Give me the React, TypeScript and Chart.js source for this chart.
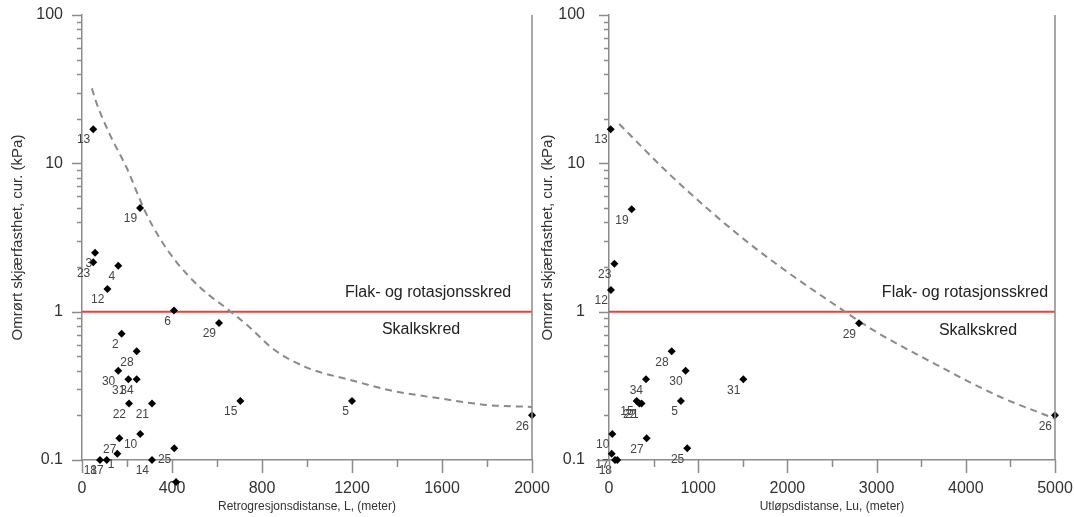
import React, { useEffect, useRef } from "react";
import { Chart, registerables } from "chart.js";
Chart.register(...registerables);

const FONT = "'Liberation Sans', Arial, Helvetica, sans-serif";
const AXIS = "#8c8c8c";
const TEXT = "#333333";

// ---------- Data: left panel (retrogression distance) ----------
const leftL = [50, 258, 58, 50, 161, 113, 409, 609, 176, 243, 161, 206, 243, 209, 311, 704, 1200, 2000, 259, 166, 157, 410, 80, 110, 311, 418];
const leftC = [17, 5.0, 2.5, 2.15, 2.04, 1.42, 1.02, 0.84, 0.71, 0.54, 0.4, 0.35, 0.35, 0.24, 0.24, 0.25, 0.25, 0.2, 0.15, 0.14, 0.11, 0.12, 0.1, 0.1, 0.1, 0.071];
const leftLabels = ["13", "19", "3", "23", "4", "12", "6", "29", "2", "28", "30", "31", "34", "22", "21", "15", "5", "26", "10", "27", "1", "25", "18", "17", "14", ""];
const leftCurveL = [44, 65, 124, 199, 280, 347, 421, 524, 661, 747, 850, 999, 1201, 1369, 1591, 1813, 2000];
const leftCurveC = [32, 25.4, 15.6, 9.3, 4.76, 3.1, 2.15, 1.46, 1.0, 0.78, 0.56, 0.42, 0.344, 0.295, 0.26, 0.234, 0.228];
const leftXTicks = [0, 400, 800, 1200, 1600, 2000];

// ---------- Data: right panel (run-out distance) ----------
const rightLu = [19, 254, 60, 22, 2803, 703, 859, 415, 1506, 310, 340, 365, 806, 37, 422, 877, 30, 67, 93, 5000];
const rightC = [17, 4.9, 2.1, 1.4, 0.836, 0.54, 0.4, 0.35, 0.35, 0.25, 0.24, 0.24, 0.25, 0.15, 0.14, 0.12, 0.11, 0.1, 0.1, 0.2];
const rightLabels = ["13", "19", "23", "12", "29", "28", "30", "34", "31", "15", "22", "21", "5", "10", "27", "25", "17", "18", "", "26"];
const rightCurveLu = [115, 700, 1450, 2000, 2515, 2964, 3637, 4388, 5000];
const rightCurveC = [18.4, 8.2, 3.3, 1.85, 1.13, 0.75, 0.45, 0.266, 0.19];
const rightXTicks = [0, 1000, 2000, 3000, 4000, 5000];

const yTicks = [0.1, 1, 10, 100];
const boundaryValue = 1;
const regionAbove = "Flak- og rotasjonsskred";
const regionBelow = "Skalkskred";
const yTitle = "Omrørt skjærfasthet, cur. (kPa)";

type PanelProps = {
  left: number;
  width: number;
  xs: number[];
  ys: number[];
  labels: string[];
  cx: number[];
  cy: number[];
  xTicks: number[];
  xTitle: string;
  yAxisWidth: number;
  yLabelPad: number;
  yTitlePad: number;
  rightPad: number;
  textAbove: [number, number];
  textBelow: [number, number];
};

const decorPlugin = {
  id: "decor",
  afterDatasetsDraw(chart: any) {
    const { ctx, scales, chartArea } = chart;
    const xs = scales.x;
    const ys = scales.y;
    const cfg = chart.options.plugins.decor;
    ctx.save();
    ctx.fillStyle = "#222";
    ctx.font = `16px ${FONT}`;
    ctx.textAlign = "center";
    ctx.textBaseline = "middle";
    ctx.fillText(regionAbove, xs.getPixelForValue(cfg.textAbove[0]), ys.getPixelForValue(cfg.textAbove[1]));
    ctx.fillText(regionBelow, xs.getPixelForValue(cfg.textBelow[0]), ys.getPixelForValue(cfg.textBelow[1]));
    const meta = chart.getDatasetMeta(0);
    // points that lie outside the plotting area (Chart.js skips them)
    ctx.fillStyle = "#000";
    meta.data.forEach((el: any) => {
      if (el.y > chartArea.bottom + 3 || el.y < chartArea.top - 3) {
        const r = 4;
        ctx.beginPath();
        ctx.moveTo(el.x, el.y - r);
        ctx.lineTo(el.x + r, el.y);
        ctx.lineTo(el.x, el.y + r);
        ctx.lineTo(el.x - r, el.y);
        ctx.closePath();
        ctx.fill();
      }
    });
    ctx.fillStyle = "#444";
    ctx.font = `12px ${FONT}`;
    ctx.textAlign = "right";
    ctx.textBaseline = "middle";
    meta.data.forEach((el: any, i: number) => {
      const t = cfg.labels[i];
      if (t) ctx.fillText(t, el.x - 3, el.y + 11);
    });
    ctx.restore();
  },
  afterDraw(chart: any) {
    const { ctx, chartArea, scales } = chart;
    const xs = scales.x;
    const ys = scales.y;
    const cfg = chart.options.plugins.decor;
    ctx.save();
    ctx.strokeStyle = AXIS;
    ctx.lineWidth = 1.5;
    ctx.beginPath();
    for (let d = -1; d <= 1; d++) {
      for (let m = 1; m <= 9; m++) {
        const v = m * Math.pow(10, d);
        const py = Math.round(ys.getPixelForValue(v)) + 0.5;
        const len = m === 1 ? 10 : 5;
        ctx.moveTo(chartArea.left - len, py);
        ctx.lineTo(chartArea.left, py);
      }
    }
    const pTop = Math.round(ys.getPixelForValue(100)) + 0.5;
    ctx.moveTo(chartArea.left - 10, pTop);
    ctx.lineTo(chartArea.left, pTop);
    const t = cfg.xTicks;
    const step = t[1] - t[0];
    for (let v = t[0]; v <= t[t.length - 1] + 1e-9; v += step / 2) {
      const px = Math.round(xs.getPixelForValue(v)) + 0.5;
      const major = Math.abs(v / step - Math.round(v / step)) < 1e-6;
      const len = major ? 13 : 7;
      ctx.moveTo(px, chartArea.bottom);
      ctx.lineTo(px, chartArea.bottom + len);
    }
    ctx.moveTo(chartArea.right, chartArea.top);
    ctx.lineTo(chartArea.right, chartArea.bottom);
    ctx.stroke();
    ctx.restore();
  },
};

function Panel(p: PanelProps) {
  const ref = useRef<HTMLCanvasElement>(null);
  useEffect(() => {
    const xMin = p.xTicks[0];
    const xMax = p.xTicks[p.xTicks.length - 1];
    const chart = new Chart(ref.current as HTMLCanvasElement, {
      type: "scatter",
      data: {
        datasets: [
          {
            type: "scatter",
            data: p.xs.map((x, i) => ({ x, y: p.ys[i] })),
            pointStyle: "rectRot",
            pointRadius: 4,
            backgroundColor: "#000",
            borderColor: "#000",
            borderWidth: 0,
            clip: false,
            order: 0,
          } as any,
          {
            type: "line",
            data: [
              { x: xMin, y: boundaryValue },
              { x: xMax, y: boundaryValue },
            ],
            borderColor: "#e8403c",
            borderWidth: 2,
            pointRadius: 0,
            order: 2,
          } as any,
          {
            type: "line",
            data: p.cx.map((x, i) => ({ x, y: p.cy[i] })),
            borderColor: "#8a8a8a",
            borderWidth: 2,
            borderDash: [7, 5],
            pointRadius: 0,
            cubicInterpolationMode: "monotone",
            order: 1,
          } as any,
        ],
      },
      options: {
        responsive: false,
        animation: false,
        layout: { padding: { left: 0, right: p.rightPad, top: 15, bottom: 0 } },
        plugins: {
          legend: { display: false },
          tooltip: { enabled: false },
          decor: {
            labels: p.labels,
            xTicks: p.xTicks,
            textAbove: p.textAbove,
            textBelow: p.textBelow,
          },
        } as any,
        scales: {
          x: {
            type: "linear",
            min: xMin,
            max: xMax,
            afterBuildTicks: (s: any) => {
              s.ticks = p.xTicks.map((v) => ({ value: v }));
            },
            afterFit: (s: any) => {
              s.height = 57;
              s.paddingLeft = 0;
              s.paddingRight = 0;
              s.paddingTop = 0;
              s.paddingBottom = 0;
            },
            ticks: {
              autoSkip: false,
              maxRotation: 0,
              padding: 19,
              color: TEXT,
              font: { family: FONT, size: 16 },
              callback: (v: any) => String(v),
            },
            grid: { display: false, drawTicks: false },
            border: { display: true, color: AXIS, width: 1.5 },
            title: {
              display: true,
              text: p.xTitle,
              color: TEXT,
              font: { family: FONT, size: 12 },
              padding: { top: 0, bottom: 3 },
            },
          },
          y: {
            type: "logarithmic",
            min: 0.1,
            max: 100,
            afterBuildTicks: (s: any) => {
              s.ticks = yTicks.map((v) => ({ value: v }));
            },
            afterFit: (s: any) => {
              s.width = p.yAxisWidth;
              s.paddingLeft = 0;
              s.paddingRight = 0;
              s.paddingTop = 0;
              s.paddingBottom = 0;
            },
            ticks: {
              autoSkip: false,
              padding: p.yLabelPad,
              color: TEXT,
              font: { family: FONT, size: 16 },
              callback: (v: any) => String(v),
            },
            grid: { display: false, drawTicks: false },
            border: { display: true, color: AXIS, width: 1.5 },
            title: {
              display: true,
              text: yTitle,
              color: TEXT,
              font: { family: FONT, size: 15 },
              padding: { top: p.yTitlePad, bottom: 0 },
            },
          },
        },
      } as any,
      plugins: [decorPlugin as any],
    });
    return () => chart.destroy();
  }, []);
  return (
    <canvas
      ref={ref}
      width={p.width}
      height={517}
      style={{ position: "absolute", left: p.left, top: 0, width: p.width, height: 517 }}
    />
  );
}

export default function App() {
  return (
    <div style={{ position: "absolute", left: 0, top: 0, width: 1074, height: 517, background: "#fff" }}>
      <Panel
        left={0}
        width={560}
        xs={leftL}
        ys={leftC}
        labels={leftLabels}
        cx={leftCurveL}
        cy={leftCurveC}
        xTicks={leftXTicks}
        xTitle="Retrogresjonsdistanse, L, (meter)"
        yAxisWidth={82}
        yLabelPad={19}
        yTitlePad={9}
        rightPad={28}
        textAbove={[1538, 1.34]}
        textBelow={[1507, 0.757]}
      />
      <Panel
        left={537}
        width={537}
        xs={rightLu}
        ys={rightC}
        labels={rightLabels}
        cx={rightCurveLu}
        cy={rightCurveC}
        xTicks={rightXTicks}
        xTitle="Utløpsdistanse, Lu, (meter)"
        yAxisWidth={72}
        yLabelPad={24}
        yTitlePad={2}
        rightPad={19}
        textAbove={[3991, 1.34]}
        textBelow={[4137, 0.75]}
      />
    </div>
  );
}
